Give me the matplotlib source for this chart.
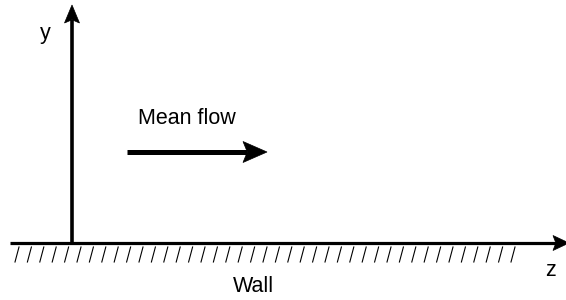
"""Schematic of a wall-bounded mean flow with y/z axes."""

import matplotlib

matplotlib.use("Agg")

import matplotlib.pyplot as plt
import numpy as np
from matplotlib.patches import Polygon

plt.rcParams["font.family"] = ["Liberation Sans", "DejaVu Sans"]

# geometry in pixel units (figure is 566 x 300)
WALL_Y = 243
WALL_X = [10, 569]
AXIS_X = 72
AXIS_TOP = 5
FLOW_X = [127, 267]
FLOW_Y = 152
HATCH_START = 15
HATCH_STOP = 512
HATCH_STEP = 12.4
HATCH_DEPTH = 15
HATCH_SLANT = 4

LABELS = [
    ("y", 45, 33),
    ("Mean flow", 187, 118),
    ("z", 550, 271),
    ("Wall", 253, 287),
]


def arrow(ax, x0, y0, x1, y1, lw, head_len, head_wid):
    """Shaft plus a stealth-style filled head, all in pixel units."""
    d = np.array([x1 - x0, y1 - y0], dtype=float)
    d /= np.hypot(*d)
    n = np.array([-d[1], d[0]])
    tip = np.array([x1, y1], dtype=float)
    back = tip - d * head_len
    notch = tip - d * head_len * 0.82
    ax.plot([x0, notch[0]], [y0, notch[1]], color="black", lw=lw,
            solid_capstyle="butt")
    head = [tip, back + n * head_wid / 2, notch, back - n * head_wid / 2]
    ax.add_patch(Polygon(head, closed=True, color="black", lw=0.5))


def main():
    fig = plt.figure(figsize=(5.66, 3.0), dpi=100)
    ax = fig.add_axes([0, 0, 1, 1])
    ax.set_xlim(0, 566)
    ax.set_ylim(300, 0)
    ax.axis("off")

    for x in np.arange(HATCH_START, HATCH_STOP, HATCH_STEP):
        ax.plot(
            [x, x + HATCH_SLANT],
            [WALL_Y + 4 + HATCH_DEPTH, WALL_Y + 4],
            color="black",
            lw=0.8,
        )

    arrow(ax, WALL_X[0], WALL_Y, WALL_X[1], WALL_Y, 2.3, 16, 15)
    arrow(ax, AXIS_X, WALL_Y, AXIS_X, AXIS_TOP, 2.6, 18, 15)
    arrow(ax, FLOW_X[0], FLOW_Y, FLOW_X[1], FLOW_Y, 3.6, 24, 21)

    for text, x, y in LABELS:
        ax.text(x, y, text, fontsize=15.5, ha="center", va="center")

    fig.savefig("out.png", dpi=100)
    plt.close(fig)


if __name__ == "__main__":
    main()
